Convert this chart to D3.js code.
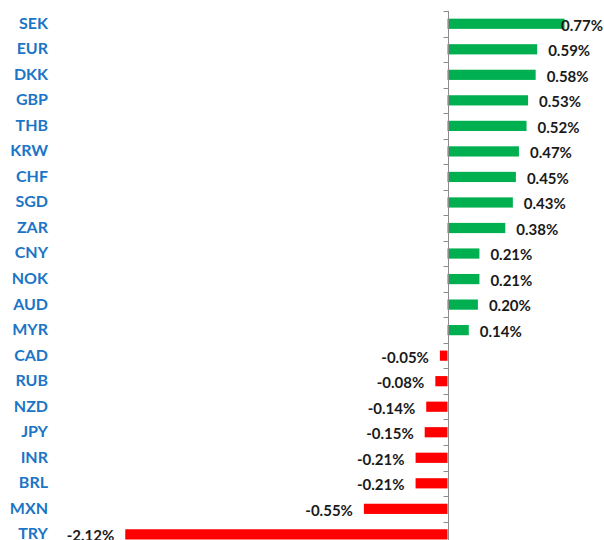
<!DOCTYPE html>
<html lang="en">
<head>
    <meta charset="UTF-8">
    <title>Currency moves</title>
    <script src="https://d3js.org/d3.v7.min.js"></script>
    <style>
        body { margin: 0; padding: 0; background: #fff; }
        svg { display: block; }
    </style>
</head>
<body>
<script>
    // Currencies and their % change
    const currencies = ["SEK", "EUR", "DKK", "GBP", "THB", "KRW", "CHF", "SGD", "ZAR", "CNY", "NOK",
        "AUD", "MYR", "CAD", "RUB", "NZD", "JPY", "INR", "BRL", "MXN", "TRY"];
    const changes = [0.77, 0.59, 0.58, 0.53, 0.52, 0.47, 0.45, 0.43, 0.38, 0.21, 0.21,
        0.20, 0.14, -0.05, -0.08, -0.14, -0.15, -0.21, -0.21, -0.55, -2.12];
    const xDomain = [-2.5, 1.0];

    const data = currencies.map((c, i) => ({ name: c, value: changes[i] }));

    const W = 604, H = 540;
    const svg = d3.select("body").append("svg")
        .attr("width", W)
        .attr("height", H);

    const step = 25.53;
    const plotTop = 11;

    const x = d3.scaleLinear().domain(xDomain).range([67.5, 599.5]);
    const y = d3.scaleBand()
        .domain(currencies)
        .range([plotTop, plotTop + step * currencies.length])
        .paddingInner(0.6)
        .paddingOuter(0.3);

    // bars
    svg.append("g").selectAll("rect")
        .data(data)
        .join("rect")
        .attr("x", d => x(Math.min(0, d.value)))
        .attr("y", d => y(d.name))
        .attr("width", d => Math.abs(x(d.value) - x(0)))
        .attr("height", y.bandwidth())
        .attr("fill", d => d.value >= 0 ? "#00b050" : "#ff0000");

    // axis line at zero with ticks on category boundaries
    const ax = svg.append("g").attr("stroke", "#8c8c8c").attr("stroke-width", 1);
    const x0 = Math.round(x(0)) + 0.5;
    ax.append("line")
        .attr("x1", x0).attr("x2", x0)
        .attr("y1", plotTop).attr("y2", plotTop + step * currencies.length);
    const bounds = d3.range(currencies.length + 1).map(i => plotTop + i * y.step());
    ax.selectAll("line.tick")
        .data(bounds)
        .join("line")
        .attr("class", "tick")
        .attr("x1", x0 - 5).attr("x2", x0)
        .attr("y1", d => Math.round(d) + 0.5)
        .attr("y2", d => Math.round(d) + 0.5);

    // category labels
    svg.append("g").selectAll("text")
        .data(data)
        .join("text")
        .attr("x", 48)
        .attr("y", d => y(d.name) + y.bandwidth() / 2 - 0.8)
        .attr("dy", "0.36em")
        .attr("text-anchor", "end")
        .attr("font-family", "Lato, 'Open Sans', sans-serif")
        .attr("font-weight", "bold")
        .attr("font-size", 16)
        .attr("fill", "#1c75c6")
        .text(d => d.name);

    // value labels (plain hyphen for negatives, as in the original)
    const fmt = v => (v < 0 ? "-" : "") + d3.format(".2f")(Math.abs(v)) + "%";
    const labels = svg.append("g").selectAll("text")
        .data(data)
        .join("text")
        .attr("y", d => y(d.name) + y.bandwidth() / 2 + 1.5)
        .attr("dy", "0.36em")
        .attr("text-anchor", d => d.value >= 0 ? "start" : "end")
        .attr("font-family", "Lato, 'Open Sans', sans-serif")
        .attr("font-weight", "bold")
        .attr("font-size", 15)
        .attr("fill", "#1a1a1a")
        .text(d => fmt(d.value));

    labels.attr("x", function (d) {
        if (d.value < 0) return x(d.value) - 11;
        const w = this.getComputedTextLength();
        return Math.min(x(d.value) + 11, W - 1 - w);
    });
</script>
</body>
</html>
